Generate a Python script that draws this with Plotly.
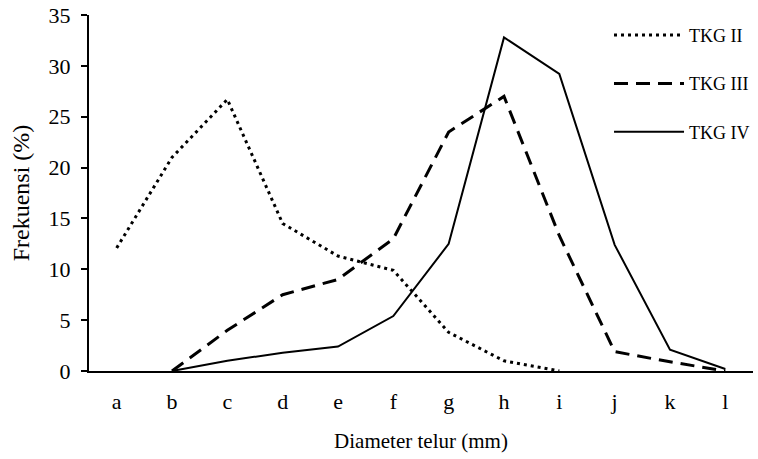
import plotly.graph_objects as go

categories = ["a", "b", "c", "d", "e", "f", "g", "h", "i", "j", "k", "l"]
tkg2 = [12.1, 21.0, 26.7, 14.5, 11.3, 9.9, 3.8, 1.0, 0.0, None, None, None]
tkg3 = [None, 0.0, 4.0, 7.5, 9.0, 13.0, 23.5, 27.0, 13.3, 1.9, 0.9, 0.0]
tkg4 = [None, 0.0, 1.0, 1.8, 2.4, 5.4, 12.5, 32.8, 29.2, 12.4, 2.1, 0.2]

FONT = "Liberation Serif, Times New Roman, serif"

fig = go.Figure()
fig.add_trace(go.Scatter(x=categories, y=tkg2, mode="lines", name="TKG II",
                         legendgroup="g2",
                         line=dict(color="black", width=3, dash="3px,4px")))
fig.add_trace(go.Scatter(x=categories, y=tkg3, mode="lines", name="TKG III",
                         legendgroup="g3",
                         line=dict(color="black", width=3, dash="14px,8px")))
fig.add_trace(go.Scatter(x=categories, y=tkg4, mode="lines", name="TKG IV",
                         legendgroup="g4",
                         line=dict(color="black", width=2)))

fig.update_layout(
    width=758, height=459,
    margin=dict(l=89, r=4, t=15, b=88),
    paper_bgcolor="white", plot_bgcolor="white",
    font=dict(family=FONT, size=20, color="black"),
    showlegend=True,
    legend=dict(x=0.782, y=0.995, xanchor="left", yanchor="top",
                font=dict(family=FONT, size=18, color="black"),
                itemwidth=70,
                tracegroupgap=22, bgcolor="rgba(0,0,0,0)"),
    xaxis=dict(
        type="category", categoryorder="array", categoryarray=categories,
        range=[-0.5, 11.5], showline=True, linecolor="black", linewidth=2,
        showgrid=False, zeroline=False, ticks="", ticklabelstandoff=10,
        tickfont=dict(size=22), automargin=False,
        title=dict(text="Diameter telur (mm)", font=dict(size=21), standoff=20),
    ),
    yaxis=dict(
        range=[0, 35], dtick=5, showline=True, linecolor="black", linewidth=2,
        showgrid=False, zeroline=False, ticks="outside", ticklen=6,
        tickwidth=2, tickcolor="black", ticklabelstandoff=6,
        tickfont=dict(size=22), automargin=False,
        title=dict(text="Frekuensi (%)", font=dict(size=24), standoff=12),
    ),
)

fig.write_html("out.html", config={"displayModeBar": False},
               post_script="document.body.style.margin='0';")
